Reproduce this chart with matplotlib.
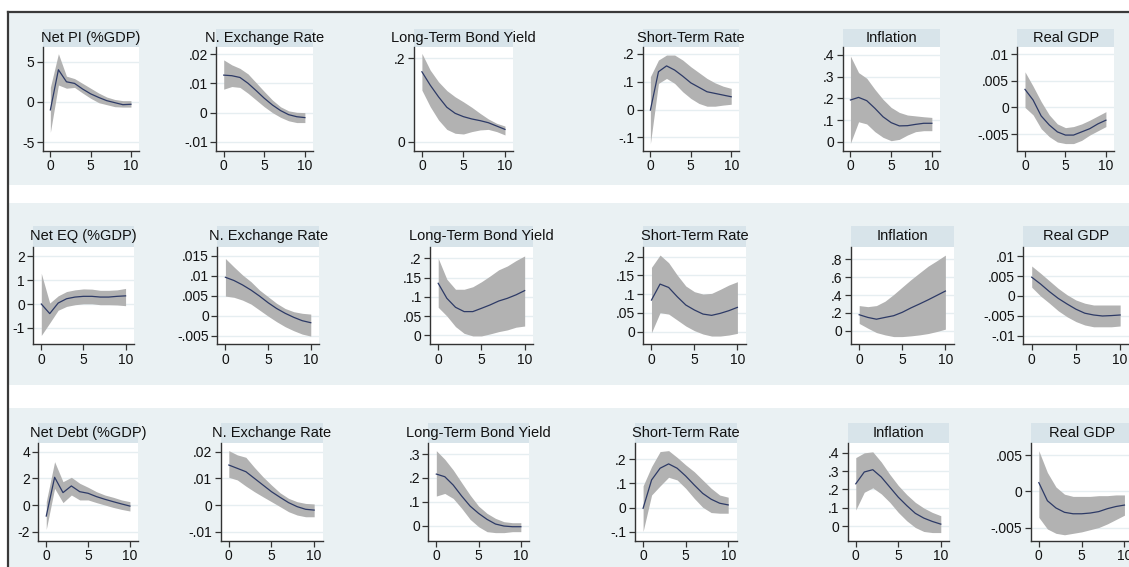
import matplotlib
matplotlib.use("Agg")
import matplotlib.pyplot as plt
from matplotlib.patches import Rectangle
from matplotlib.lines import Line2D

plt.rcParams['font.family'] = ['Liberation Sans', 'DejaVu Sans']

horizon = list(range(11))

titles = [
    ["Net PI (%GDP)", "N. Exchange Rate", "Long-Term Bond Yield", "Short-Term Rate", "Inflation", "Real GDP"],
    ["Net EQ (%GDP)", "N. Exchange Rate", "Long-Term Bond Yield", "Short-Term Rate", "Inflation", "Real GDP"],
    ["Net Debt (%GDP)", "N. Exchange Rate", "Long-Term Bond Yield", "Short-Term Rate", "Inflation", "Real GDP"],
]

# ---- Row 1: Net portfolio investment shock ----
r1_pi_mid = [-1.0, 4.0, 2.5, 2.3, 1.6, 1.0, 0.55, 0.15, -0.1, -0.35, -0.3]
r1_pi_up = [1.8, 6.0, 3.2, 2.9, 2.3, 1.7, 1.1, 0.6, 0.3, 0.15, 0.15]
r1_pi_lo = [-3.8, 2.1, 1.7, 1.8, 1.1, 0.45, -0.1, -0.35, -0.6, -0.65, -0.65]

r1_ner_mid = [.0128, .0126, .012, .010, .0075, .0049, .0026, .0007, -.0007, -.0014, -.0017]
r1_ner_up = [.018, .0163, .0151, .0132, .0102, .0072, .0043, .002, .0006, .0001, 0.0]
r1_ner_lo = [.008, .0089, .0086, .0066, .0043, .002, 0.0, -.0016, -.0028, -.0034, -.0034]

r1_lt_mid = [.168, .136, .108, .083, .0685, .0605, .055, .051, .046, .038, .030]
r1_lt_up = [.212, .172, .144, .123, .108, .096, .083, .0685, .055, .0446, .038]
r1_lt_lo = [.124, .0845, .0526, .030, .0207, .019, .0247, .0287, .030, .0247, .0167]

r1_st_mid = [-.002, .136, .157, .142, .120, .096, .080, .064, .058, .052, .046]
r1_st_up = [.118, .178, .196, .196, .178, .154, .133, .112, .096, .084, .076]
r1_st_lo = [-.123, .094, .112, .094, .064, .040, .022, .012, .012, .016, .019]

r1_inf_mid = [.193, .205, .190, .155, .116, .089, .074, .075, .081, .086, .086]
r1_inf_up = [.395, .319, .293, .242, .196, .159, .136, .124, .120, .116, .113]
r1_inf_lo = [-.006, .093, .083, .0475, .0215, .006, .012, .032, .0475, .052, .052]

r1_gdp_mid = [.0034, .0014, -.0016, -.0033, -.0046, -.0052, -.0052, -.0046, -.004, -.0031, -.0024]
r1_gdp_up = [.0067, .004, .0011, -.0014, -.0031, -.0038, -.0036, -.0031, -.0024, -.0016, -.0008]
r1_gdp_lo = [0.0, -.0014, -.004, -.0055, -.0065, -.0068, -.0068, -.0062, -.0052, -.0044, -.0036]

# ---- Row 2: Net equity shock ----
r2_eq_mid = [0.0, -0.4, 0.04, 0.22, 0.29, 0.32, 0.32, 0.29, 0.29, 0.32, 0.34]
r2_eq_up = [1.28, 0.04, 0.34, 0.52, 0.59, 0.63, 0.62, 0.57, 0.57, 0.59, 0.65]
r2_eq_lo = [-1.31, -0.79, -0.26, -0.1, -0.03, 0.01, 0.01, -0.03, -0.03, -0.04, -0.07]

r2_ner_mid = [.0096, .0088, .0077, .0064, .0049, .00325, .0018, .0006, -.0004, -.00125, -.00175]
r2_ner_up = [.0143, .0122, .0102, .0085, .0064, .00475, .0031, .0018, .001, .0006, .0004]
r2_ner_lo = [.0049, .0046, .0039, .0029, .0014, -.0001, -.0015, -.00275, -.00375, -.0046, -.0051]

r2_lt_mid = [.135, .096, .0727, .0615, .0615, .070, .0788, .089, .096, .105, .116]
r2_lt_up = [.2, .1455, .1195, .1195, .126, .139, .154, .170, .180, .194, .206]
r2_lt_lo = [.0727, .050, .0225, .005, -.0017, -.0017, .0035, .0095, .014, .021, .024]

r2_st_mid = [.0844, .127, .118, .0933, .0711, .0578, .047, .0436, .0489, .056, .0649]
r2_st_up = [.1716, .2044, .184, .151, .1218, .1067, .1004, .1022, .1129, .1244, .1333]
r2_st_lo = [-.0027, .0507, .047, .0311, .0151, .0027, -.0062, -.0116, -.0116, -.0089, -.0044]

r2_inf_mid = [.18, .15, .13, .15, .169, .207, .256, .30, .346, .395, .444]
r2_inf_up = [.282, .27, .282, .331, .406, .489, .571, .647, .722, .782, .845]
r2_inf_lo = [.083, .03, -.019, -.045, -.064, -.064, -.056, -.045, -.03, -.0075, .019]

r2_gdp_mid = [.0047, .003, .0011, -.0006, -.002, -.0033, -.0043, -.00475, -.005, -.0049, -.00475]
r2_gdp_up = [.0075, .0057, .0038, .0019, .0003, -.001, -.0018, -.00225, -.00225, -.00225, -.00225]
r2_gdp_lo = [.0022, 0.0, -.0018, -.0037, -.0052, -.0064, -.00725, -.0077, -.0077, -.0077, -.0075]

# ---- Row 3: Net debt shock ----
r3_debt_mid = [-0.83, 2.08, 0.93, 1.43, 1.0, 0.88, 0.63, 0.43, 0.25, 0.08, -0.08]
r3_debt_up = [0.25, 3.25, 1.75, 2.08, 1.63, 1.33, 1.0, 0.75, 0.58, 0.38, 0.25]
r3_debt_lo = [-1.83, 1.25, 0.18, 0.75, 0.38, 0.38, 0.18, 0.0, -0.18, -0.33, -0.45]

r3_ner_mid = [.015, .01375, .0125, .010, .0075, .005, .0029, .0009, -.0006, -.0016, -.0019]
r3_ner_up = [.0204, .0188, .0179, .0141, .0106, .0075, .0046, .0025, .00125, .0006, .0004]
r3_ner_lo = [.0104, .0094, .0071, .005, .0031, .00125, -.0006, -.0025, -.00375, -.0044, -.0044]

r3_lt_mid = [.216, .205, .170, .124, .082, .0516, .0265, .007, -.0014, -.0042, -.0042]
r3_lt_up = [.314, .278, .233, .180, .128, .082, .0516, .0307, .0167, .0126, .0126]
r3_lt_lo = [.124, .135, .114, .0726, .0265, -.0042, -.025, -.029, -.029, -.025, -.025]

r3_st_mid = [-.003, .1145, .163, .181, .163, .131, .094, .059, .0345, .018, .011]
r3_st_up = [.0897, .17, .232, .236, .208, .177, .149, .1145, .08, .052, .043]
r3_st_lo = [-.099, .052, .0897, .1255, .1145, .08, .0386, .0014, -.0207, -.0234, -.0234]

r3_inf_mid = [.231, .2955, .308, .268, .213, .158, .112, .07, .044, .0257, .011]
r3_inf_up = [.374, .40, .4055, .35, .2826, .222, .172, .130, .099, .075, .057]
r3_inf_lo = [.088, .185, .209, .176, .130, .075, .029, -.0073, -.029, -.035, -.035]

r3_gdp_mid = [.0012, -.0013, -.0023, -.0029, -.0031, -.0031, -.003, -.0028, -.0024, -.0021, -.0019]
r3_gdp_up = [.0056, .0026, .0006, -.0004, -.0007, -.0007, -.0007, -.0006, -.0006, -.0005, -.0005]
r3_gdp_lo = [-.0036, -.0052, -.0058, -.006, -.0058, -.0056, -.0053, -.005, -.0045, -.0039, -.0033]

yticks = [
    [[-5, 0, 5], [-.01, 0, .01, .02], [0, .2], [-.1, 0, .1, .2], [0, .1, .2, .3, .4], [-.005, 0, .005, .01]],
    [[-1, 0, 1, 2], [-.005, 0, .005, .01, .015], [0, .05, .1, .15, .2], [0, .05, .1, .15, .2],
     [0, .2, .4, .6, .8], [-.01, -.005, 0, .005, .01]],
    [[-2, 0, 2, 4], [-.01, 0, .01, .02], [0, .1, .2, .3], [-.1, 0, .1, .2], [0, .1, .2, .3, .4], [-.005, 0, .005]],
]
xticks = [0, 5, 10]

series = [
    [(r1_pi_mid, r1_pi_lo, r1_pi_up), (r1_ner_mid, r1_ner_lo, r1_ner_up), (r1_lt_mid, r1_lt_lo, r1_lt_up),
     (r1_st_mid, r1_st_lo, r1_st_up), (r1_inf_mid, r1_inf_lo, r1_inf_up), (r1_gdp_mid, r1_gdp_lo, r1_gdp_up)],
    [(r2_eq_mid, r2_eq_lo, r2_eq_up), (r2_ner_mid, r2_ner_lo, r2_ner_up), (r2_lt_mid, r2_lt_lo, r2_lt_up),
     (r2_st_mid, r2_st_lo, r2_st_up), (r2_inf_mid, r2_inf_lo, r2_inf_up), (r2_gdp_mid, r2_gdp_lo, r2_gdp_up)],
    [(r3_debt_mid, r3_debt_lo, r3_debt_up), (r3_ner_mid, r3_ner_lo, r3_ner_up), (r3_lt_mid, r3_lt_lo, r3_lt_up),
     (r3_st_mid, r3_st_lo, r3_st_up), (r3_inf_mid, r3_inf_lo, r3_inf_up), (r3_gdp_mid, r3_gdp_lo, r3_gdp_up)],
]

# ---------------- layout (pixels) ----------------
W, H = 1129, 567
fig = plt.figure(figsize=(W / 100, H / 100), dpi=100)
fig.patch.set_facecolor('white')

BAND = '#eaf1f3'
TITLEBOX = '#d8e4ea'
GRID = '#e6eef1'
FILL = '#b2b2b2'
LINE = '#2d3a66'
AX = '#333333'


def frac_rect(L, T, R, B):
    return [L / W, 1 - B / H, (R - L) / W, (B - T) / H]


# row bands
for (top, bot) in [(12, 185), (203, 385), (408, 567)]:
    fig.patches.append(Rectangle((8 / W, 1 - bot / H), (W - 8) / W, (bot - top) / H,
                                 transform=fig.transFigure, facecolor=BAND, edgecolor='none', zorder=-2))
# outer frame (top and left)
fig.lines.append(Line2D([7.5 / W, 1], [1 - 11.5 / H, 1 - 11.5 / H], transform=fig.transFigure,
                        color='#3a3a3a', lw=1.6, zorder=5))
fig.lines.append(Line2D([7.5 / W, 7.5 / W], [1 - 11.5 / H, 0], transform=fig.transFigure,
                        color='#3a3a3a', lw=1.6, zorder=5))

rows_geom = [
    dict(tb=29.3, T=46.7, B=150.7, LR=[(42.7, 139), (216, 313), (414, 513.3), (642.7, 739.3), (842.7, 940), (1017.3, 1114)]),
    dict(tb=226, T=246.7, B=344.3, LR=[(33.3, 134), (217.3, 319.3), (430, 533.3), (643.3, 746), (851, 954), (1023.3, 1129)]),
    dict(tb=423.3, T=443.3, B=541, LR=[(38.3, 138.3), (220.7, 322.7), (428.3, 529.3), (635, 736.7), (847.7, 949.3), (1030.7, 1133)]),
]

ylims = [
    [(-6.08, 6.87), (-0.0130, 0.0225), (-0.021, 0.228), (-0.148, 0.226), (-0.04, 0.438), (-0.00814, 0.01143)],
    [(-1.68, 2.39), (-0.00715, 0.01725), (-0.0234, 0.230), (-0.0336, 0.2267), (-0.15, 0.939), (-0.01208, 0.01233)],
    [(-2.70, 4.63), (-0.01349, 0.02315), (-0.064, 0.3448), (-0.1385, 0.2663), (-0.081, 0.452), (-0.00686, 0.00663)],
]


def fmt(v):
    s = f"{v:g}"
    if s.startswith("0."):
        s = s[1:]
    elif s.startswith("-0."):
        s = "-" + s[2:]
    return s


for r in range(3):
    g = rows_geom[r]
    for c in range(6):
        L, R = g['LR'][c]
        # title box
        tax = fig.add_axes(frac_rect(L, g['tb'], R, g['T']))
        tax.set_facecolor(TITLEBOX)
        tax.set_xticks([]); tax.set_yticks([])
        for s in tax.spines.values():
            s.set_visible(False)
        tax.text(0.5, 0.5, titles[r][c], ha='center', va='center', fontsize=10.5,
                 color='#111111', transform=tax.transAxes, clip_on=False)

        ax = fig.add_axes(frac_rect(L, g['T'], R, g['B']))
        ax.set_facecolor('white')
        mid, lo, up = series[r][c]
        ax.fill_between(horizon, lo, up, color=FILL, lw=0, zorder=2)
        ax.plot(horizon, mid, color=LINE, lw=0.9, zorder=3)
        ax.set_xlim(-0.95, 11.0)
        ax.set_ylim(*ylims[r][c])
        ax.set_xticks(xticks)
        ax.set_xticklabels([str(t) for t in xticks])
        ax.set_yticks(yticks[r][c])
        ax.set_yticklabels([fmt(v) for v in yticks[r][c]])
        ax.grid(axis='y', color=GRID, lw=1.0, zorder=1)
        ax.set_axisbelow(True)
        for side in ['top', 'right']:
            ax.spines[side].set_visible(False)
        for side in ['left', 'bottom']:
            ax.spines[side].set_color(AX)
            ax.spines[side].set_linewidth(1.0)
        ax.tick_params(axis='both', direction='out', length=4, width=0.9, color=AX,
                       labelsize=10, labelcolor='#111111', pad=2)

fig.savefig('out.png', dpi=100, facecolor='white')
